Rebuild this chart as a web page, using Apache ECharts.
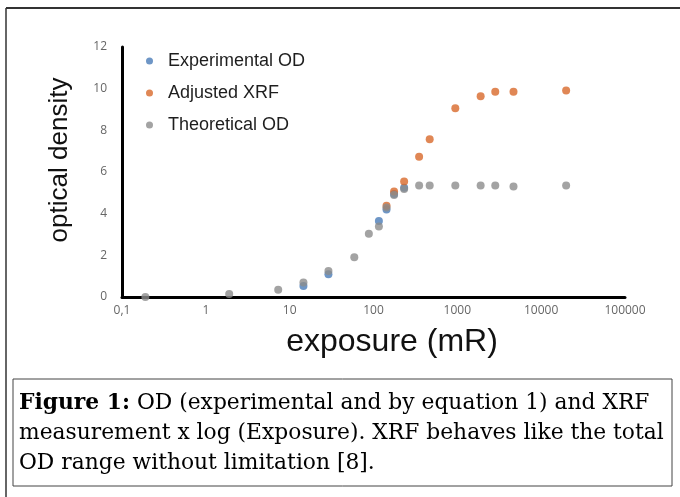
<!DOCTYPE html>
<html><head><meta charset="utf-8">
<script src="https://cdn.jsdelivr.net/npm/echarts@6/dist/echarts.min.js"></script>
<style>html,body{margin:0;padding:0;background:#fff}#c{width:680px;height:497px}</style>
</head><body><div id="c"></div>
<script>
var seriesNames = ['Experimental OD', 'Adjusted XRF', 'Theoretical OD'];
var experimentalX = [14.6, 29, 116, 143, 176, 232];
var experimentalY = [0.53, 1.09, 3.65, 4.2, 4.95, 5.25];
var adjustedX = [143, 176, 232, 350, 468, 946, 1897, 2834, 4677, 19860];
var adjustedY = [4.38, 5.06, 5.54, 6.73, 7.57, 9.06, 9.64, 9.85, 9.85, 9.91];
var theoreticalX = [0.19, 1.9, 7.3, 14.6, 29, 59, 88, 116, 143, 176, 232, 350, 468, 946, 1897, 2834, 4677, 19860];
var theoreticalY = [0.0, 0.15, 0.35, 0.7, 1.25, 1.91, 3.04, 3.39, 4.3, 4.9, 5.19, 5.35, 5.35, 5.35, 5.35, 5.35, 5.3, 5.35];
var xTickLabels = {0.1: '0,1', 1: '1', 10: '10', 100: '100', 1000: '1000', 10000: '10000', 100000: '100000'};
var captionLines = ['{b|Figure 1:} OD (experimental and by equation 1) and XRF',
  'measurement x log (Exposure). XRF behaves like the total',
  'OD range without limitation [8].'];

function pairs(xs, ys) { return xs.map(function (x, i) { return [x, ys[i]]; }); }
var colors = ['#4a7cb8', '#d8692a', '#8c8c8c'];
var chart = echarts.init(document.getElementById('c'), null, {renderer: 'canvas'});
chart.setOption({
  animation: false,
  color: colors,
  grid: {left: 122, right: 55, top: 47, bottom: 200},
  legend: {
    orient: 'vertical', left: 141, top: 47, itemGap: 14,
    icon: 'circle', itemWidth: 7, itemHeight: 7,
    data: seriesNames,
    textStyle: {fontFamily: 'Liberation Sans', fontSize: 18, color: '#1e1e1e', padding: [0, 0, 0, 10]}
  },
  xAxis: {
    type: 'log', logBase: 10, min: 0.1, max: 100000,
    axisLine: {lineStyle: {color: '#000', width: 3}},
    axisTick: {show: false}, splitLine: {show: false},
    axisLabel: {
      color: '#666', fontFamily: 'Open Sans', fontSize: 12, margin: 8,
      formatter: function (v) { var k = Number(v.toPrecision(6)); return xTickLabels[k] !== undefined ? xTickLabels[k] : ''; }
    }
  },
  yAxis: {
    type: 'value', min: 0, max: 12, interval: 2,
    axisLine: {show: true, lineStyle: {color: '#000', width: 3}},
    axisTick: {show: false}, splitLine: {show: false},
    axisLabel: {color: '#666', fontFamily: 'Open Sans', fontSize: 12, margin: 15}
  },
  series: [
    {name: seriesNames[0], type: 'scatter', symbolSize: 8, data: pairs(experimentalX, experimentalY)},
    {name: seriesNames[1], type: 'scatter', symbolSize: 8, data: pairs(adjustedX, adjustedY)},
    {name: seriesNames[2], type: 'scatter', symbolSize: 8, data: pairs(theoreticalX, theoreticalY)}
  ],
  graphic: [
    {type: 'line', shape: {x1: 6, y1: 8, x2: 680, y2: 8}, style: {stroke: '#333', lineWidth: 2}},
    {type: 'line', shape: {x1: 6, y1: 8, x2: 6, y2: 497}, style: {stroke: '#333', lineWidth: 1.5}},
    {type: 'text', x: 60, y: 160, rotation: Math.PI / 2,
      style: {text: 'optical density', fontFamily: 'Liberation Sans', fontSize: 26, fill: '#111', align: 'center', verticalAlign: 'middle'}},
    {type: 'text', x: 392, y: 342,
      style: {text: 'exposure (mR)', fontFamily: 'Liberation Sans', fontSize: 32, fill: '#111', align: 'center', verticalAlign: 'middle'}},
    {type: 'rect', shape: {x: 13, y: 379, width: 659, height: 107}, style: {fill: 'none', stroke: '#444', lineWidth: 1}},
    {type: 'text', x: 19, y: 388,
      style: {text: captionLines.join('\n'), fontFamily: 'DejaVu Serif', fontSize: 21.8, lineHeight: 30, fill: '#000',
        rich: {b: {fontWeight: 'bold', fontFamily: 'DejaVu Serif', fontSize: 21.8, lineHeight: 30}}}}
  ]
});
</script></body></html>
